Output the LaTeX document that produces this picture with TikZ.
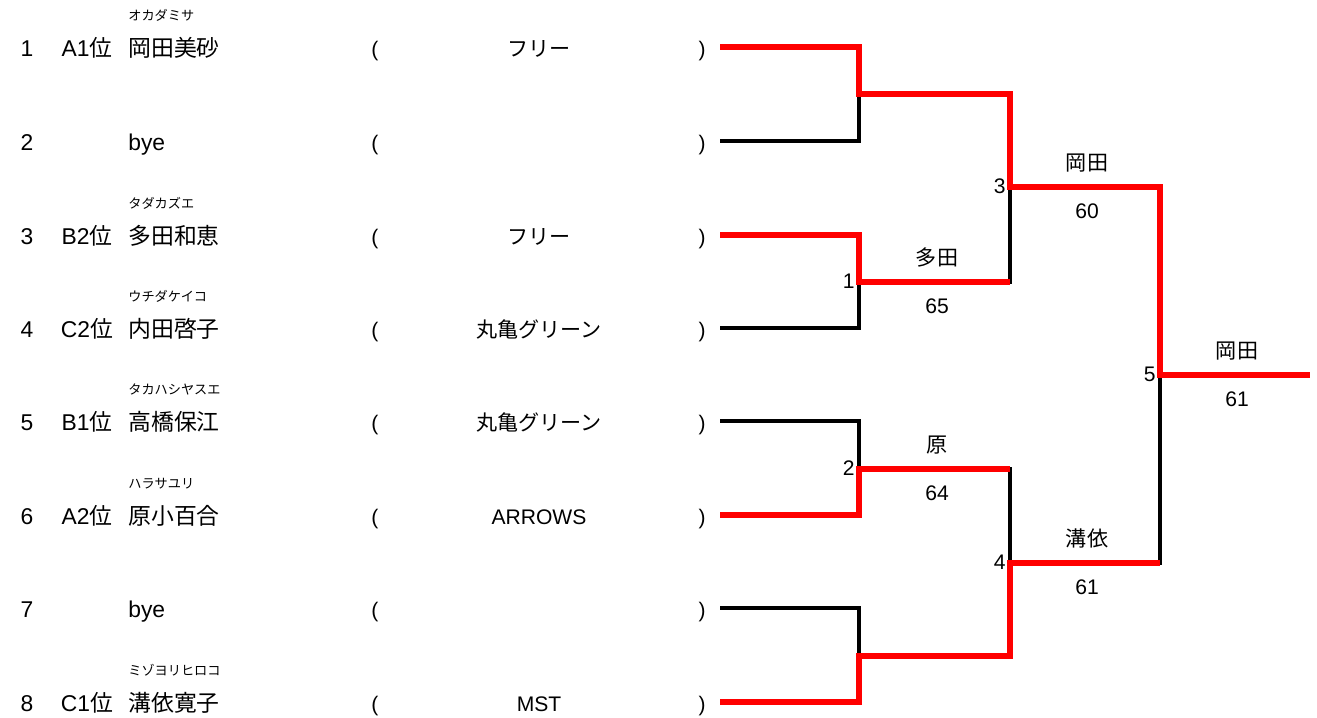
\documentclass[tikz,border=0pt]{standalone}
\usepackage{fontspec}
\setmainfont{Liberation Sans}
\newfontfamily\jp{Noto Sans CJK JP}
\usetikzlibrary{positioning}
\tikzset{won/.style={red, line width=3.2pt}}
\tikzset{lost/.style={black, line width=1.8pt}}
\tikzset{entry/.style={anchor=base, inner sep=0pt, font=\fontsize{13}{15}\selectfont}}
\tikzset{kana/.style={anchor=base west, inner sep=0pt, font=\jp\fontsize{7.5}{9}\selectfont}}
\tikzset{club/.style={anchor=base, inner sep=0pt, font=\fontsize{12}{14}\selectfont}}
\tikzset{res/.style={anchor=base, inner sep=0pt, font=\fontsize{12}{14}\selectfont}}
\tikzset{matchno/.style={anchor=base east, inner sep=0pt, font=\fontsize{12}{14}\selectfont}}

\begin{document}
\begin{tikzpicture}[x=0.02cm, y=-0.02cm]
\useasboundingbox (0,0) rectangle (1317,717);
\foreach \i/\y/\seed/\nm/\kn/\cl in {
  1/47/{A1{\jp 位}}/{\jp 岡田美砂}/オカダミサ/{\jp フリー},
  2/141//bye//,
  3/235/{B2{\jp 位}}/{\jp 多田和恵}/タダカズエ/{\jp フリー},
  4/328/{C2{\jp 位}}/{\jp 内田啓子}/ウチダケイコ/{\jp 丸亀グリーン},
  5/421/{B1{\jp 位}}/{\jp 高橋保江}/タカハシヤスエ/{\jp 丸亀グリーン},
  6/515/{A2{\jp 位}}/{\jp 原小百合}/ハラサユリ/ARROWS,
  7/608//bye//,
  8/702/{C1{\jp 位}}/{\jp 溝依寛子}/ミゾヨリヒロコ/MST} {
\node[entry] (no\i) at (27,\y+9) {\i};
\node[entry] (seed\i) at (87,\y+9) {\seed};
\node[entry, anchor=base west] (name\i) at (128,\y+9) {\nm};
\node[kana] (kana\i) at (128,\y-27) {\kn};
\node[club] (lp\i) at (375,\y+9) {(};
\node[club] (club\i) at (539,\y+9) {\cl};
\node[club] (rp\i) at (702,\y+9) {)};
\coordinate (e\i) at (720,\y);
}
% junctions
\coordinate (a) at (859,94);
\coordinate (b) at (859,282);
\coordinate (c) at (859,469);
\coordinate (d) at (859,656);
\coordinate (s1) at (1010,187);
\coordinate (s2) at (1010,563);
\coordinate (f) at (1160,375);
\coordinate (w) at (1310,375);
% losers
\draw[lost] (e2) -| (a);
\draw[lost] (e4) -| (b) -| (s1);
\draw[lost] (e5) -| (c) -| (s2);
\draw[lost] (e7) -| (d);
\draw[lost] (s2) -| (f);
% winners
\draw[won] (e1) -| (a) -| (s1) -| (f) -- (w);
\draw[won] (e3) -| (b) -- (b -| s1);
\draw[won] (e6) -| (c) -- (c -| s2);
\draw[won] (e8) -| (d) -| (s2) -- (s2 -| f);
% match numbers
\node[matchno] (m1) at (855,288) {1};
\node[matchno] (m2) at (855,475) {2};
\node[matchno] (m3) at (1006,193) {3};
\node[matchno] (m4) at (1006,569) {4};
\node[matchno] (m5) at (1156,381) {5};
% results
\node[res] (w1) at (937,265) {\jp 多田};
\node[res] (p1) at (937,313) {65};
\node[res] (w2) at (937,452) {\jp 原};
\node[res] (p2) at (937,500) {64};
\node[res] (w3) at (1087,170) {\jp 岡田};
\node[res] (p3) at (1087,218) {60};
\node[res] (w4) at (1087,546) {\jp 溝依};
\node[res] (p4) at (1087,594) {61};
\node[res] (w5) at (1237,358) {\jp 岡田};
\node[res] (p5) at (1237,406) {61};
\end{tikzpicture}
\end{document}
